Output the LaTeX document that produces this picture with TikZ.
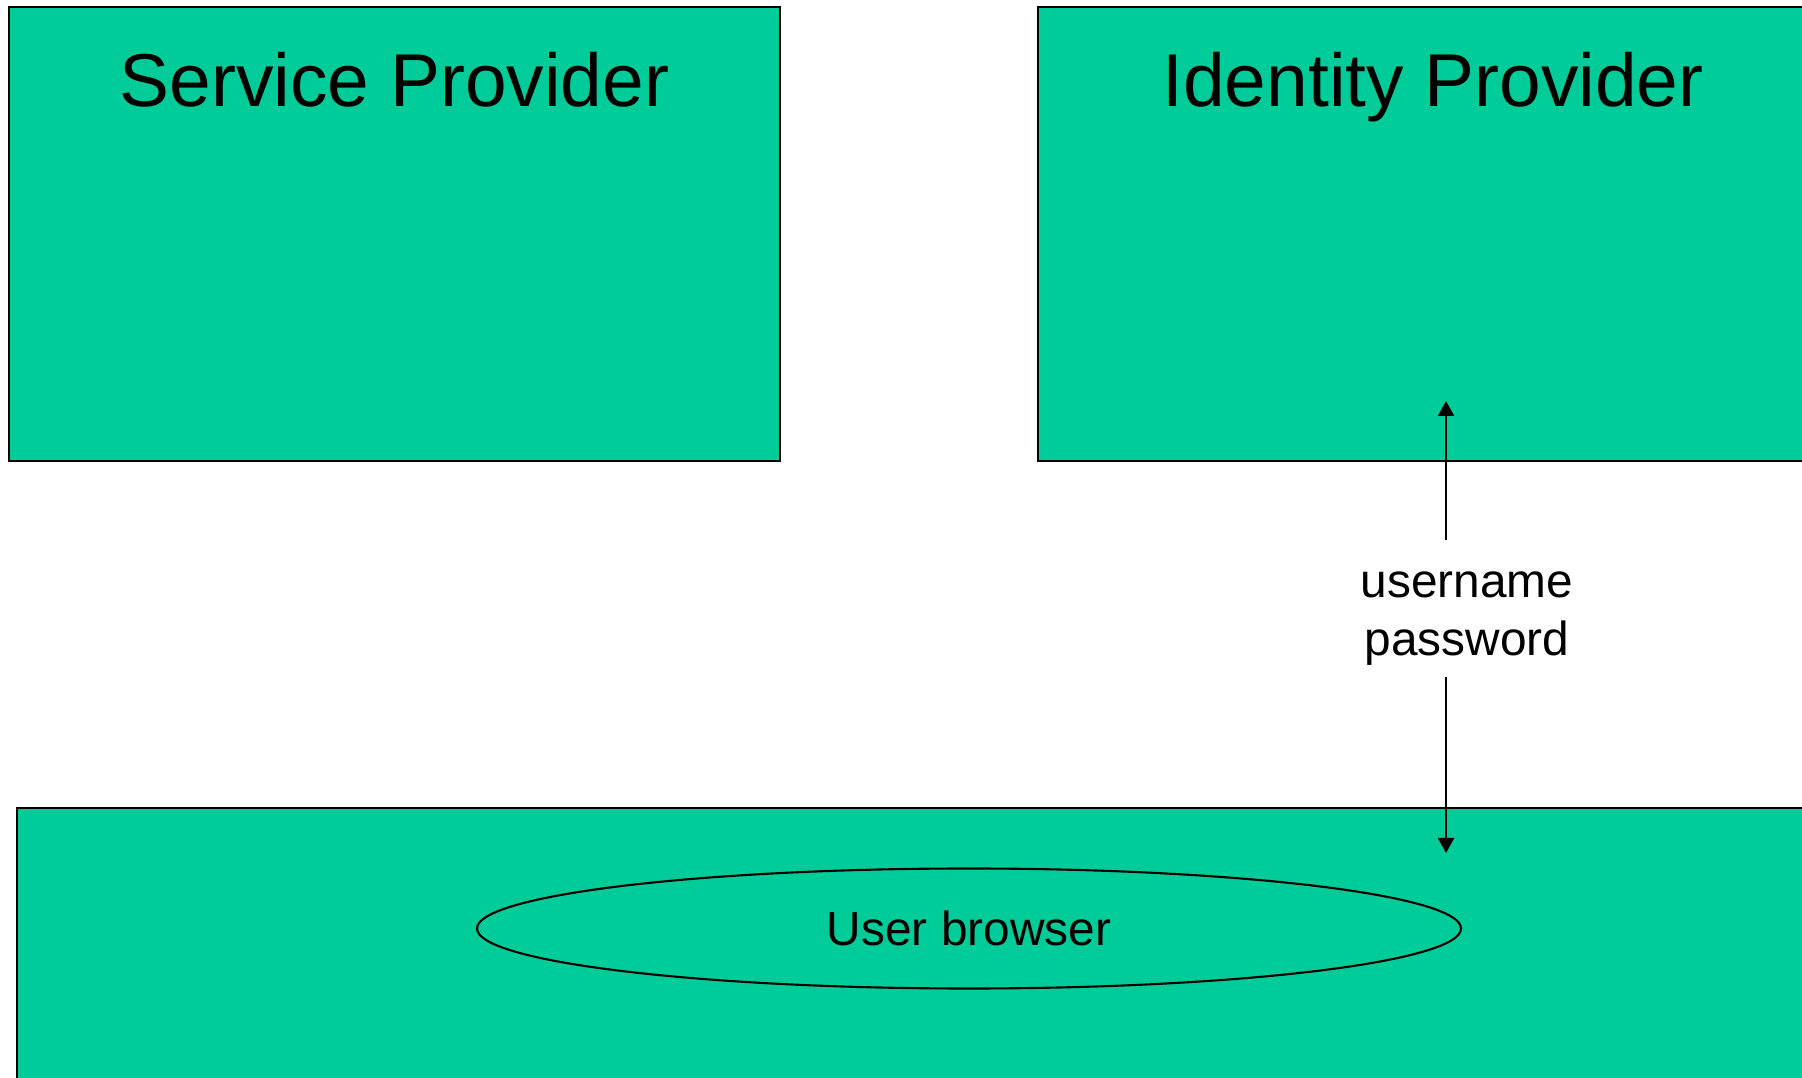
\documentclass[tikz,border=0pt]{standalone}
\usepackage{fontspec}
\setmainfont{Liberation Sans}
\usetikzlibrary{arrows.meta,positioning,shapes.geometric}
\definecolor{boxgreen}{HTML}{00CC99}
\begin{document}
\begin{tikzpicture}
    [ box-node/.style = {
        shape=rectangle, draw, line width=0.6pt,
        fill=boxgreen, inner sep=0pt
      },
      browser-node/.style = {
        shape=ellipse, draw, line width=0.6pt,
        inner sep=0pt, minimum width=9.84cm, minimum height=1.2cm,
        font=\fontsize{13.6pt}{16pt}\selectfont
      },
      title/.style = {font=\fontsize{21.3pt}{25pt}\selectfont,
        text height=15pt, text depth=4.5pt},
      txt/.style = {align=center, inner sep=0pt, minimum height=1.35cm,
        font=\fontsize{13.6pt}{16.5pt}\selectfont},
      link/.style = {-{Triangle[width=0.16cm,length=0.15cm]}, line width=0.6pt}]
      \clip (0,0) rectangle (18.02,10.77);
      % providers
      \node [box-node, minimum width=7.71cm, minimum height=4.54cm] (sp) at (3.945,8.43) {};
      \node [box-node, minimum width=8.62cm, minimum height=4.54cm] (idp) at (14.69,8.43) {};
      \node [title] (sp-title) at ([yshift=-0.82cm]sp.north) {Service Provider};
      \node [title] (idp-title) at ([xshift=-0.36cm,yshift=-0.82cm]idp.north) {Identity Provider};
      % user side
      \node [box-node, minimum width=18.66cm, minimum height=3.42cm] (user) at (9.50,0.98) {};
      \node [browser-node] (browser) at (9.69,1.485) {User browser};
      % credentials
      \node [txt] (creds) at (14.67,4.585) {username\\password};
      \coordinate (idp-in) at (14.46,6.76);
      \coordinate (browser-in) at (14.46,2.24);
      \draw [link] ([yshift=0.1cm]idp-in |- creds.north) -- (idp-in);
      \draw [link] ([yshift=0.1cm]browser-in |- creds.south) -- (browser-in);
\end{tikzpicture}
\end{document}
